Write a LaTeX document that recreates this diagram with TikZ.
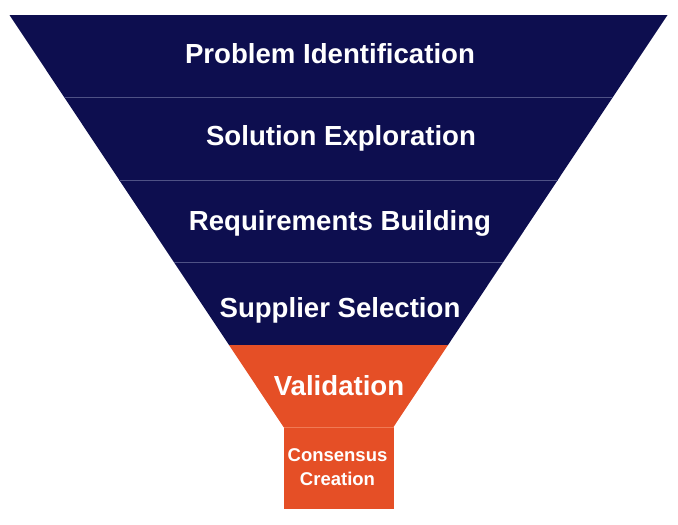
\documentclass[tikz,border=0pt]{standalone}
\usepackage{fontspec}
\setmainfont{Liberation Sans}
\definecolor{funnelnavy}{HTML}{0D0E4F}
\definecolor{funnelorange}{HTML}{E54F26}
\definecolor{sepline}{HTML}{4E5185}
\definecolor{seporange}{HTML}{F07A55}

\begin{document}
\begin{tikzpicture}[x=1pt,y=-1pt,
    stage/.style={text=white,anchor=base,font=\bfseries\fontsize{27.6}{30}\selectfont},
    smallstage/.style={text=white,align=center,font=\bfseries\fontsize{18.5}{24}\selectfont},
    sep/.style={draw=sepline,line width=0.7pt}]
      \useasboundingbox (0,0) rectangle (678,525);
      % funnel edges
      \coordinate (l0) at (9.5,15);    \coordinate (r0) at (667.5,15);
      \coordinate (l1) at (64,97);     \coordinate (r1) at (613,97);
      \coordinate (l2) at (119.2,180); \coordinate (r2) at (557.8,180);
      \coordinate (l3) at (174.4,262.5); \coordinate (r3) at (502.6,262.5);
      \coordinate (l4) at (229,345);   \coordinate (r4) at (448,345);
      \coordinate (l5) at (283.5,427); \coordinate (r5) at (393.5,427);
      \coordinate (b5) at (393.5,509);
      \fill[funnelnavy] (l0) -- (r0) -- (r4) -- (l4) -- cycle;
      \fill[funnelorange] (l4) -- (r4) -- (r5) -- (l5) -- cycle;
      \fill[funnelorange] (l5) rectangle (b5);
      \draw[sep] (l1) -- (r1);
      \draw[sep] (l2) -- (r2);
      \draw[sep] (l3) -- (r3);
      \draw[draw=seporange,line width=0.6pt] (l5) -- (r5);
      \node[stage] (problem) at (330,63) {Problem Identification};
      \node[stage] (solution) at (341,145.5) {Solution Exploration};
      \node[stage] (requirements) at (340,230) {Requirements Building};
      \node[stage] (supplier) at (340,317.5) {Supplier Selection};
      \node[stage] (validation) at (339,395) {Validation};
      \node[smallstage] (consensus) at (337.5,467) {Consensus\\Creation};
    \end{tikzpicture}
\end{document}
